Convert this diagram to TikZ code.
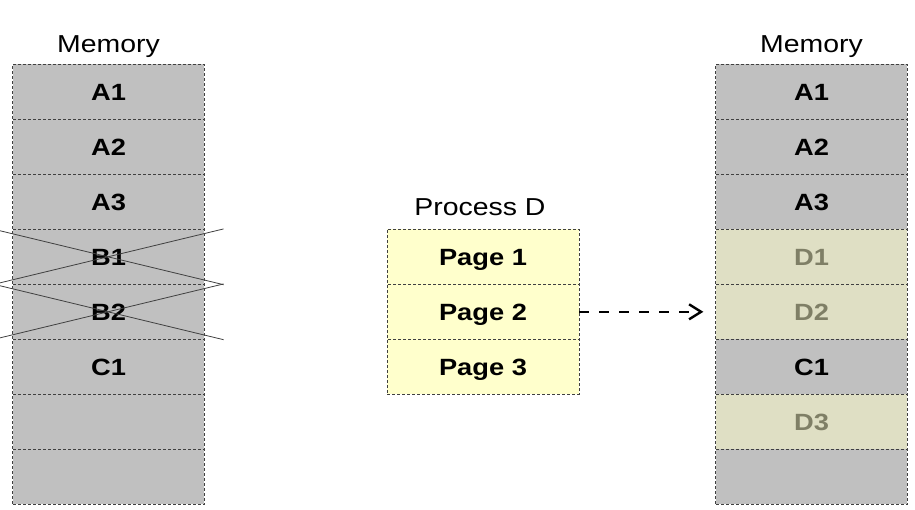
\documentclass[tikz,border=0pt]{standalone}
\usepackage{fontspec}
\setmainfont{Liberation Sans}[FakeStretch=1.16]
\usetikzlibrary{calc,arrows.meta}
\definecolor{memgrey}{HTML}{C0C0C0}
\definecolor{pageyel}{HTML}{FFFFCC}
\definecolor{dcell}{HTML}{DFDFC4}
\definecolor{dtext}{HTML}{7F7F66}
\definecolor{edgecol}{HTML}{404040}
\tikzset{
  cell/.style={draw=edgecol, dash pattern=on 3pt off 2pt, line width=0.8pt,
    minimum width=191.5pt, minimum height=55pt, inner sep=0pt,
    font=\fontsize{23.5}{24}\selectfont\bfseries, text height=16.8pt, text depth=0pt},
  memcell/.style={cell, fill=memgrey},
  pagecell/.style={cell, fill=pageyel, minimum width=192pt},
  dmemcell/.style={cell, fill=dcell, text=dtext},
  title/.style={anchor=base, inner sep=0pt, font=\fontsize{24.5}{25}\selectfont},
  crossline/.style={draw=edgecol, line width=0.8pt},
  movearrow/.style={line width=2.4pt, dash pattern=on 10pt off 10pt,
    -{Straight Barb[length=12pt, width=15pt, line width=2.4pt]}, shorten >=12pt}
}
\begin{document}
\begin{tikzpicture}[x=1pt, y=-1pt]
\useasboundingbox (0,0) rectangle (915,509);
% left memory
\node[title] (lt) at (108.5,52.3) {Memory};
\node[memcell] (la1) at (108.5,91.8) {A1};
\node[memcell] (la2) at (108.5,146.8) {A2};
\node[memcell] (la3) at (108.5,201.8) {A3};
\node[memcell] (lb1) at (108.5,256.8) {B1};
\node[memcell] (lb2) at (108.5,311.8) {B2};
\node[memcell] (lc1) at (108.5,366.8) {C1};
\node[memcell] (le1) at (108.5,421.8) {};
\node[memcell] (le2) at (108.5,476.8) {};
% crosses
\draw[crossline] ($(lb1.north west)+(-20,0)$) -- ($(lb1.south east)+(19,0)$);
\draw[crossline] ($(lb1.south west)+(-20,0)$) -- ($(lb1.north east)+(19,0)$);
\draw[crossline] ($(lb2.north west)+(-20,0)$) -- ($(lb2.south east)+(19,0)$);
\draw[crossline] ($(lb2.south west)+(-20,0)$) -- ($(lb2.north east)+(19,0)$);
% process D
\node[title] (pt) at (480,215) {Process D};
\node[pagecell] (p1) at (483,256.8) {Page 1};
\node[pagecell] (p2) at (483,311.8) {Page 2};
\node[pagecell] (p3) at (483,366.8) {Page 3};
% right memory
\node[title] (rt) at (811.5,52.3) {Memory};
\node[memcell] (ra1) at (811.5,91.8) {A1};
\node[memcell] (ra2) at (811.5,146.8) {A2};
\node[memcell] (ra3) at (811.5,201.8) {A3};
\node[dmemcell] (rd1) at (811.5,256.8) {D1};
\node[dmemcell] (rd2) at (811.5,311.8) {D2};
\node[memcell] (rc1) at (811.5,366.8) {C1};
\node[dmemcell] (rd3) at (811.5,421.8) {D3};
\node[memcell] (re1) at (811.5,476.8) {};
% arrow
\draw[movearrow] (p2.east) -- (rd2.west);
\end{tikzpicture}
\end{document}
